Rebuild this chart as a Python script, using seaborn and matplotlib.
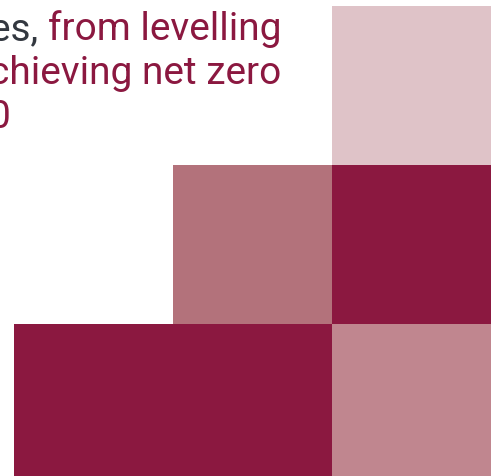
import numpy as np
import pandas as pd
import matplotlib
matplotlib.use('Agg')
import matplotlib.pyplot as plt
from matplotlib.colors import ListedColormap
import seaborn as sns

# colour level of each tile (NaN = empty), rows top to bottom
row_top = [np.nan, np.nan, 0]
row_mid = [np.nan, 2, 3]
row_bottom = [3, 3, 1]
tile_colors = ['#dfc3c8', '#c0868f', '#b3727b', '#8b1840']

line1_grey = 'es, '
line1_red = 'from levelling'
line2 = 'chieving net zero'
line3 = '0'

W, H = 500, 477
fig = plt.figure(figsize=(W / 100, H / 100), dpi=100)
sns.set_style('white')
plt.rcParams['font.family'] = ['Roboto', 'DejaVu Sans']

grid = pd.DataFrame([row_top, row_mid, row_bottom])
ax = fig.add_axes([14 / W, (H - 484) / H, 477 / W, 477 / H])
sns.heatmap(grid, ax=ax, cmap=ListedColormap(tile_colors), vmin=-0.5, vmax=3.5,
            cbar=False, xticklabels=False, yticklabels=False, linewidths=0)
ax.set_axis_off()

red = '#8b1840'
fs = 28
t1 = fig.text(281 / W, 1 - 40 / H, line1_red, color=red, fontsize=fs,
              ha='right', va='baseline')
fig.text(281 / W, 1 - 84 / H, line2, color=red, fontsize=fs, ha='right', va='baseline')
fig.text(11 / W, 1 - 128 / H, line3, color=red, fontsize=fs, ha='right', va='baseline')

r = fig.canvas.get_renderer()
x0 = t1.get_window_extent(r).x0
fig.text(x0 / W, 1 - 40 / H, line1_grey, color='#333840', fontsize=fs,
         ha='right', va='baseline')

fig.savefig('out.png', dpi=100)
